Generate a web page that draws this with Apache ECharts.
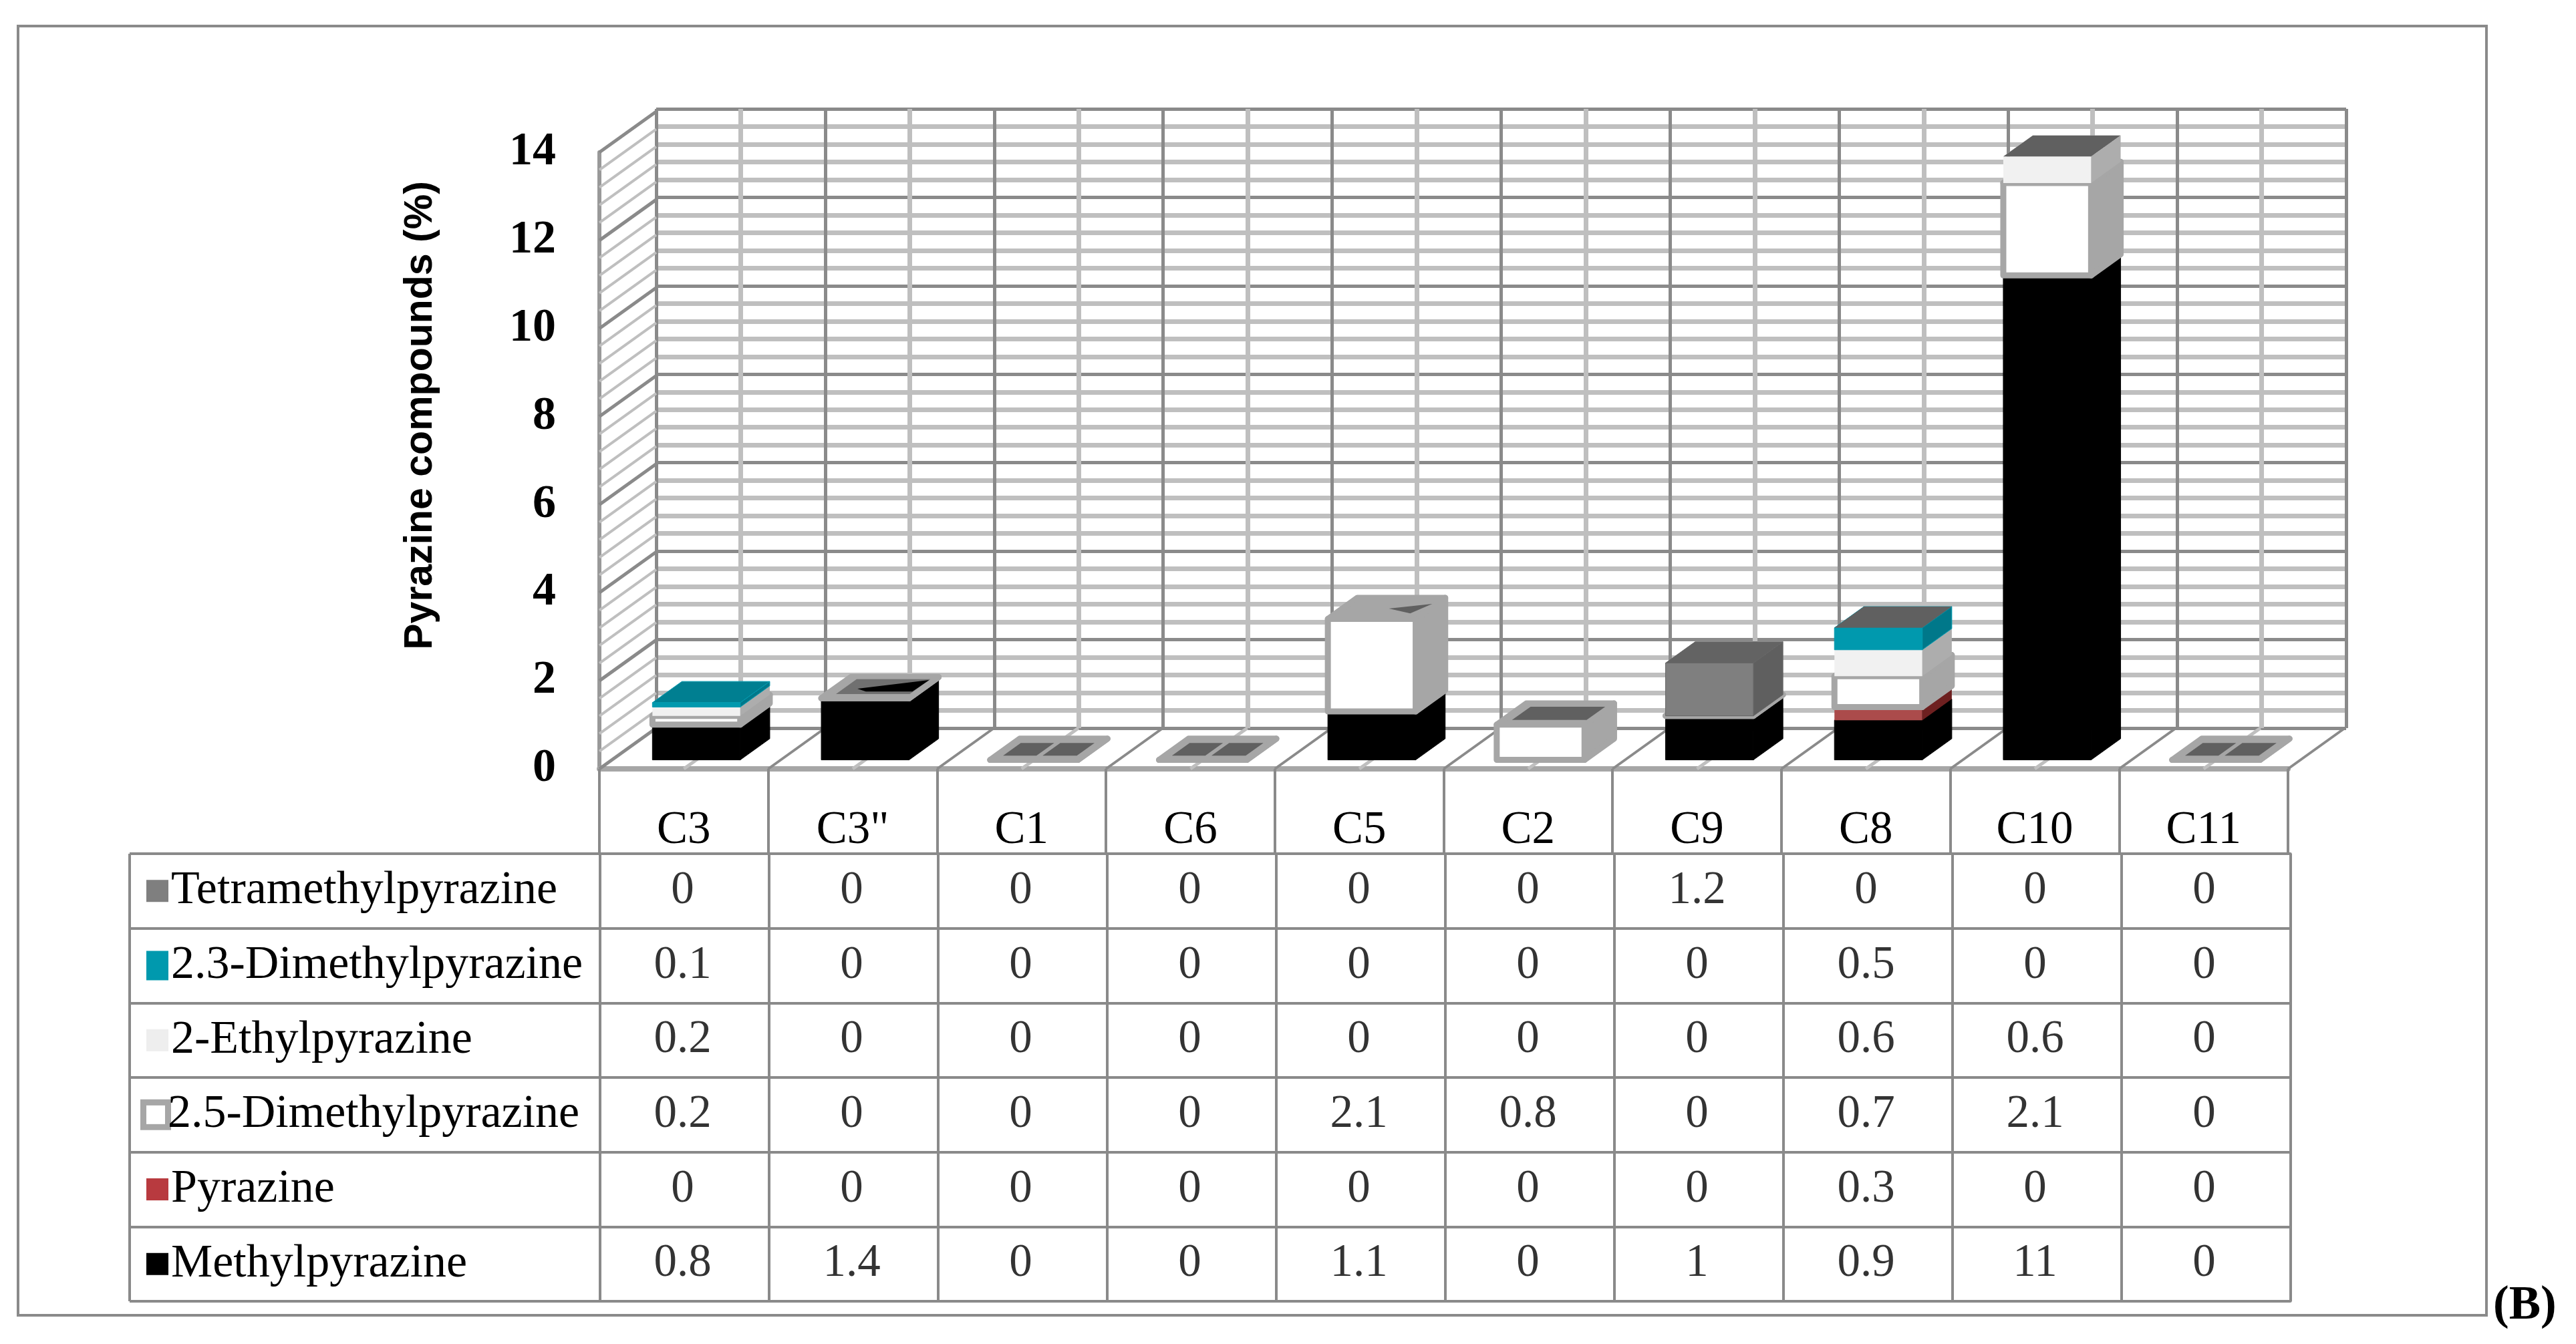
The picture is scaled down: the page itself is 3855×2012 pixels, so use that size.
<!DOCTYPE html>
<html>
<head>
<meta charset="utf-8">
<style>
  html, body { margin: 0; padding: 0; background: #fff; }
  #chart { width: 3855px; height: 2012px; }
</style>
<script src="https://cdn.jsdelivr.net/npm/echarts@6/dist/echarts.min.js"></script>
</head>
<body>
<div id="chart"></div>
<script>
const categories = ['C3', 'C3"', 'C1', 'C6', 'C5', 'C2', 'C9', 'C8', 'C10', 'C11']
const methylpyrazine = [0.8, 1.4, 0, 0, 1.1, 0, 1, 0.9, 11, 0]
const pyrazine = [0, 0, 0, 0, 0, 0, 0, 0.3, 0, 0]
const dimethyl25 = [0.2, 0, 0, 0, 2.1, 0.8, 0, 0.7, 2.1, 0]
const ethylpyrazine = [0.2, 0, 0, 0, 0, 0, 0, 0.6, 0.6, 0]
const dimethyl23 = [0.1, 0, 0, 0, 0, 0, 0, 0.5, 0, 0]
const tetramethyl = [0, 0, 0, 0, 0, 0, 1.2, 0, 0, 0]
const rowNames = ['Tetramethylpyrazine', '2.3-Dimethylpyrazine', '2-Ethylpyrazine', '2.5-Dimethylpyrazine', 'Pyrazine', 'Methylpyrazine']
const wallTicks = [0, 0.4, 0.8, 1.2, 1.6, 2, 2.4, 2.8, 3.2, 3.6, 4, 4.4, 4.8, 5.2, 5.6, 6, 6.4, 6.8, 7.2, 7.6, 8, 8.4, 8.8, 9.2, 9.6, 10, 10.4, 10.8, 11.2, 11.6, 12, 12.4, 12.8, 13.2, 13.6, 14]
const floorTicks = [0.5, 1, 1.5, 2, 2.5, 3, 3.5, 4, 4.5, 5, 5.5, 6, 6.5, 7, 7.5, 8, 8.5, 9, 9.5, 10]

const serif = 'Liberation Serif'
const majorLine = '#8a8a8a'
const minorLine = '#bfbfbf'
// projection of the floor depth
const depthX = 85
const depthY = -61
const barFront = 0.22
const barBack = 0.74
const barWidth = 0.52

// bottom to top, same order as the stack in the picture
const stack = [
  {name: 'Methylpyrazine', values: methylpyrazine, front: '#000', side: '#000', top: '#000', stroke: '#000', lineWidth: 1},
  {name: 'Pyrazine', values: pyrazine, front: '#ab4b4b', side: '#6e2020', top: '#d09a98'},
  {name: '2.5-Dimethylpyrazine', values: dimethyl25, front: '#fff', side: '#a6a6a6', top: '#a6a6a6', stroke: '#a6a6a6', lineWidth: 9, keepZero: true},
  {name: '2-Ethylpyrazine', values: ethylpyrazine, front: '#f1f1f1', side: '#adadad', top: '#f1f1f1'},
  {name: '2.3-Dimethylpyrazine', values: dimethyl23, front: '#0099ae', side: '#00788a', top: '#007f91', stroke: '#0099ae', lineWidth: 1},
  {name: 'Tetramethylpyrazine', values: tetramethyl, front: '#7f7f7f', side: '#5f5f5f', top: '#636363', stroke: '#666', lineWidth: 1}
]

// what shows through on top of each column where the zero height segments fight, in u/v of the top face
const darkCells = [[[0.08, 0.2], [0.46, 0.2], [0.46, 0.8], [0.08, 0.8]], [[0.53, 0.2], [0.92, 0.2], [0.92, 0.8], [0.53, 0.8]]]
const wholeTop = [[[0, 0], [1, 0], [1, 1], [0, 1]]]
const topMarks = [
  [],
  [[[0.1, 0.2], [0.94, 0.2], [0.94, 0.9], [0.1, 0.9]], [[0.26, 0.45], [0.94, 0.86], [0.93, 0.32], [0.4, 0.32]]],
  darkCells,
  darkCells,
  [[[0.53, 0.49], [0.95, 0.71], [0.85, 0.26]]],
  [[[0.1, 0.22], [0.95, 0.22], [0.95, 0.85], [0.1, 0.85]]],
  [],
  wholeTop,
  wholeTop,
  darkCells
]
const topMarkColors = {1: ['#707070', '#000']}

function stackedBase(level, i) {
  let total = 0
  for (let k = 0; k < level; k++) total += stack[k].values[i]
  return total
}

function segmentData(level) {
  const data = []
  categories.forEach((c, i) => {
    const v = stack[level].values[i]
    if (v > 0 || stack[level].keepZero) {
      const base = stackedBase(level, i)
      data.push([i, base, base + v])
    }
  })
  return data
}

function barBox(api, i, val) {
  const p = api.coord([i, val])
  const w = api.size([1, 0])[0] * barWidth
  const left = p[0] - w / 2 + depthX * barFront
  const y = p[1] + depthY * barFront
  const dx = depthX * (barBack - barFront)
  const dy = depthY * (barBack - barFront)
  return {left, y, w, dx, dy}
}

function renderSegment(s) {
  return function (params, api) {
    const i = api.value(0)
    const b = barBox(api, i, api.value(1))
    const t = barBox(api, i, api.value(2))
    const edge = s.stroke ? {stroke: s.stroke, lineWidth: s.lineWidth, lineJoin: 'round'} : {}
    return {
      type: 'group',
      children: [
        {
          type: 'polygon',
          shape: {points: [[b.left + b.w, b.y], [b.left + b.w + b.dx, b.y + b.dy], [t.left + t.w + t.dx, t.y + t.dy], [t.left + t.w, t.y]]},
          style: Object.assign({fill: s.side}, edge)
        },
        {
          type: 'polygon',
          shape: {points: [[t.left, t.y], [t.left + t.w, t.y], [t.left + t.w + t.dx, t.y + t.dy], [t.left + t.dx, t.y + t.dy]]},
          style: Object.assign({fill: s.top}, edge)
        },
        {
          type: 'rect',
          shape: {x: b.left, y: t.y, width: b.w, height: b.y - t.y},
          style: Object.assign({fill: s.front}, edge)
        }
      ]
    }
  }
}

function renderTopMark(params, api) {
  const i = api.value(0)
  const t = barBox(api, i, api.value(1))
  const colors = topMarkColors[i] || []
  return {
    type: 'group',
    children: topMarks[i].map((poly, n) => ({
      type: 'polygon',
      shape: {points: poly.map(q => [t.left + q[0] * t.w + q[1] * t.dx, t.y + q[1] * t.dy])},
      style: {fill: colors[n] || '#606060'}
    }))
  }
}

function renderWallLine(params, api) {
  const v = api.value(0)
  const size = api.size([1, 0])[0]
  const p = api.coord([0, v])
  const x = p[0] - size / 2
  const major = Math.abs(v % 2) < 1e-6
  return {
    type: 'line',
    shape: {x1: x, y1: p[1], x2: x + depthX, y2: p[1] + depthY},
    style: {stroke: major ? majorLine : minorLine, lineWidth: major ? 5 : 4}
  }
}

function renderFloorLine(params, api) {
  const v = api.value(0)
  const size = api.size([1, 0])[0]
  const p = api.coord([0, 0])
  const x = p[0] - size / 2 + v * size
  const major = Number.isInteger(v)
  return {
    type: 'line',
    shape: {x1: x, y1: p[1], x2: x + depthX, y2: p[1] + depthY},
    style: {stroke: major ? majorLine : minorLine, lineWidth: major ? 4 : 5}
  }
}

const swatches = {
  s0: {width: 33, height: 33, backgroundColor: '#7f7f7f'},
  s1: {width: 33, height: 44, backgroundColor: '#0099ae'},
  s2: {width: 33, height: 33, backgroundColor: '#eeeeee'},
  s3: {width: 28, height: 28, backgroundColor: '#fff', borderColor: '#a6a6a6', borderWidth: 9},
  s4: {width: 33, height: 33, backgroundColor: '#b83a3f'},
  s5: {width: 33, height: 33, backgroundColor: '#000'},
  t: {fontFamily: serif, fontSize: 70, color: '#000', padding: [0, 0, 0, 4]}
}

const tableValues = []
rowNames.forEach(name => {
  const s = stack.find(e => e.name === name)
  s.values.forEach((v, col) => tableValues.push([col, name, v]))
})

const chart = echarts.init(document.getElementById('chart'), null, {renderer: 'canvas'})
const option = {
  animation: false,
  backgroundColor: '#fff',
  grid: [
    {left: 982, right: 344, top: 163, bottom: 922},
    {left: 897, right: 431, top: 228, bottom: 861},
    {left: 898, right: 427, top: 1278, bottom: 64, show: true, borderColor: majorLine, borderWidth: 3}
  ],
  xAxis: [
    {
      gridIndex: 0, type: 'value', min: 0, max: 10, interval: 1,
      axisLine: {show: false}, axisTick: {show: false}, axisLabel: {show: false},
      minorTick: {show: false, splitNumber: 2},
      splitLine: {show: true, lineStyle: {color: majorLine, width: 5}},
      minorSplitLine: {show: true, lineStyle: {color: minorLine, width: 7}}
    },
    {
      gridIndex: 1, type: 'category', data: categories,
      axisLine: {show: true, lineStyle: {color: '#a6a6a6', width: 8}},
      axisTick: {show: true, length: 127, interval: 0, lineStyle: {color: majorLine, width: 4}},
      axisLabel: {show: true, interval: 0, margin: 58, fontFamily: serif, fontSize: 69, color: '#000'}
    },
    {
      gridIndex: 2, type: 'category', data: categories,
      axisLine: {show: false}, axisTick: {show: false}, axisLabel: {show: false},
      splitLine: {show: true, interval: 0, lineStyle: {color: majorLine, width: 4}}
    }
  ],
  yAxis: [
    {
      gridIndex: 0, type: 'value', min: 0, max: 14, interval: 2,
      axisLine: {show: false}, axisTick: {show: false}, axisLabel: {show: false},
      minorTick: {show: false, splitNumber: 5},
      splitLine: {show: true, lineStyle: {color: majorLine, width: 5}},
      minorSplitLine: {show: true, lineStyle: {color: minorLine, width: 7}}
    },
    {
      gridIndex: 1, type: 'value', min: 0, max: 14, interval: 2,
      axisLine: {show: true, lineStyle: {color: '#999', width: 6}},
      axisTick: {show: false},
      splitLine: {show: false},
      axisLabel: {margin: 65, fontFamily: serif, fontWeight: 'bold', fontSize: 70, color: '#000'}
    },
    {
      gridIndex: 2, type: 'category', inverse: true, data: rowNames,
      axisLine: {show: true, lineStyle: {color: majorLine, width: 4}},
      axisTick: {show: true, length: 704, interval: 0, lineStyle: {color: majorLine, width: 4}},
      splitLine: {show: true, interval: 0, lineStyle: {color: majorLine, width: 4}},
      axisLabel: {
        interval: 0, margin: 679, align: 'left',
        formatter: (value, idx) => '{s' + rowNames.indexOf(value) + '|}{t|' + value + '}',
        rich: swatches
      }
    }
  ],
  graphic: [
    {type: 'rect', z: 0, shape: {x: 27, y: 39, width: 3694, height: 1930}, style: {fill: 'none', stroke: majorLine, lineWidth: 4}},
    {type: 'line', z: 5, shape: {x1: 194, y1: 1278, x2: 194, y2: 1948}, style: {stroke: majorLine, lineWidth: 4}},
    {
      type: 'text', z: 5, x: 630, y: 622, rotation: Math.PI / 2,
      style: {text: 'Pyrazine compounds (%)', fontFamily: 'Liberation Sans', fontWeight: 'bold', fontSize: 59, fill: '#000', align: 'center', verticalAlign: 'middle'}
    },
    {
      type: 'text', z: 5, x: 3731, y: 1956,
      style: {text: '(B)', fontFamily: serif, fontWeight: 'bold', fontSize: 71, fill: '#000', align: 'left', verticalAlign: 'middle'}
    }
  ],
  series: [
    {
      type: 'custom', name: 'wall', xAxisIndex: 1, yAxisIndex: 1, z: 2, silent: true, clip: false,
      data: wallTicks.map(v => [v]), encode: {y: 0}, renderItem: renderWallLine
    },
    {
      type: 'custom', name: 'floor', xAxisIndex: 1, yAxisIndex: 1, z: 2, silent: true, clip: false,
      data: floorTicks.map(v => [v]), encode: {x: -1, y: -1}, renderItem: renderFloorLine
    }
  ].concat(stack.map((s, level) => ({
    type: 'custom', name: s.name, xAxisIndex: 1, yAxisIndex: 1, z: 3 + level, clip: false,
    data: segmentData(level), encode: {x: 0, y: [1, 2]}, renderItem: renderSegment(s)
  }))).concat([
    {
      type: 'custom', name: 'topMarks', xAxisIndex: 1, yAxisIndex: 1, z: 10, silent: true, clip: false,
      data: categories.map((c, i) => [i, stack.reduce((sum, s) => sum + s.values[i], 0)]),
      encode: {x: 0, y: 1}, renderItem: renderTopMark
    },
    {
      type: 'scatter', name: 'table', xAxisIndex: 2, yAxisIndex: 2, z: 10, silent: true,
      symbolSize: 1, itemStyle: {color: 'transparent'},
      label: {show: true, position: 'inside', padding: [10, 6, 0, 0], fontFamily: serif, fontSize: 69, color: '#000', formatter: p => String(p.value[2])},
      data: tableValues
    }
  ])
}
chart.setOption(option)
</script>
</body>
</html>
